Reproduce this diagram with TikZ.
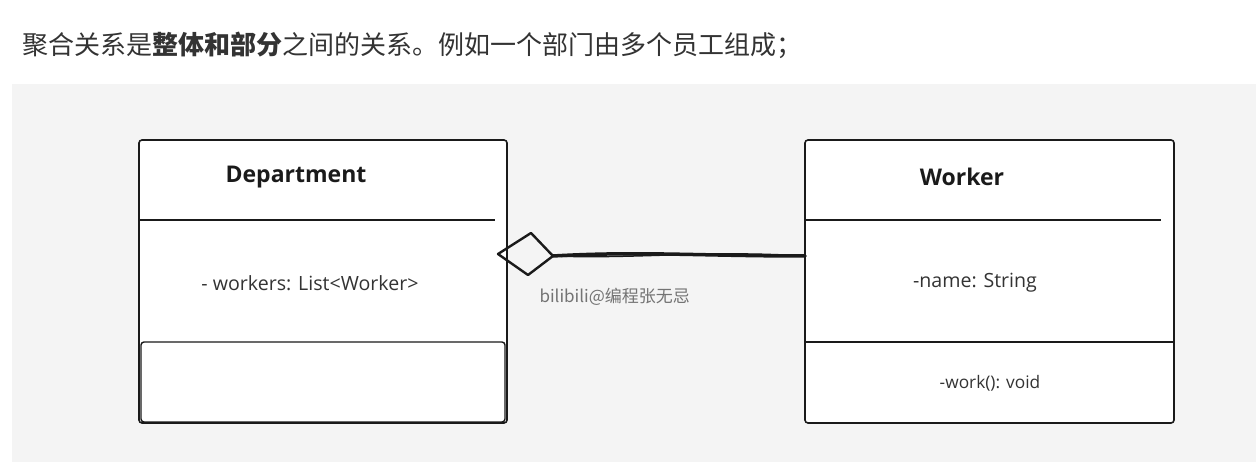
\documentclass[tikz,border=0pt]{standalone}
\usepackage{fontspec}
\setmainfont{Open Sans}
\newfontfamily\cjk{Noto Sans CJK SC}
\definecolor{panel}{HTML}{F4F4F4}
\definecolor{ink}{HTML}{1A1A1A}
\definecolor{txt}{HTML}{333333}
\begin{document}
\begin{tikzpicture}[x=1pt,y=-1pt,
  box/.style={draw=ink,line width=1.6pt,fill=white,rounded corners=3pt},
  sep/.style={draw=ink,line width=1.4pt},
  title/.style={font=\bfseries\fontsize{23}{27}\selectfont,text=ink},
  attr/.style={font=\fontsize{19.6}{23}\selectfont,text=txt},
  meth/.style={font=\fontsize{17.3}{20}\selectfont,text=txt},
  wmark/.style={font=\cjk\fontsize{17}{20}\selectfont,text=black!55}]
\useasboundingbox (0,0) rectangle (1256,462);
\fill[white] (0,0) rectangle (1256,462);
\fill[panel] (12,84) rectangle (1256,462);
\node[anchor=west,inner sep=0pt,font=\cjk\fontsize{26}{30}\selectfont,text=txt] (head) at (22,45)
  {聚合关系是{\bfseries 整体和部分}之间的关系。例如一个部门由多个员工组成；};
% Department
\draw[box] (139,140) rectangle (507,423);
\draw[sep] (139,220) -- (495,220);
\draw[sep,rounded corners=3pt] (141,342) rectangle (505,422);
\node[title] (dt) at (296,177) {Department};
\node[attr] (da) at (310,283) {- workers: List<Worker>};
% Worker
\draw[box] (805,140) rectangle (1174,423);
\draw[sep] (805,220) -- (1161,220);
\draw[sep] (805,342) -- (1174,342);
\node[title] (wt) at (962,177) {Worker};
\node[attr] (wa) at (975,283) {-name: String};
\node[meth] (wm) at (990,383) {-work(): void};
% connector
\coordinate (dtip) at (498,254);
\coordinate (dtop) at (531,233);
\coordinate (dright) at (553,256);
\coordinate (dbot) at (528,275);
\coordinate (wleft) at (805,256);
\draw[ink,line width=2.4pt,line join=round] (dtip) -- (dtop) -- (dright) -- (dbot) -- cycle;
\draw[ink,line width=3.5pt,line cap=round] (dright) .. controls (640,251) and (700,256) .. (wleft);
\draw[ink,line width=1.5pt] (dright) .. controls (640,259) and (700,250) .. (wleft);
\node[wmark,anchor=west] (wmk) at (536,297) {bilibili@编程张无忌};
\end{tikzpicture}
\end{document}
